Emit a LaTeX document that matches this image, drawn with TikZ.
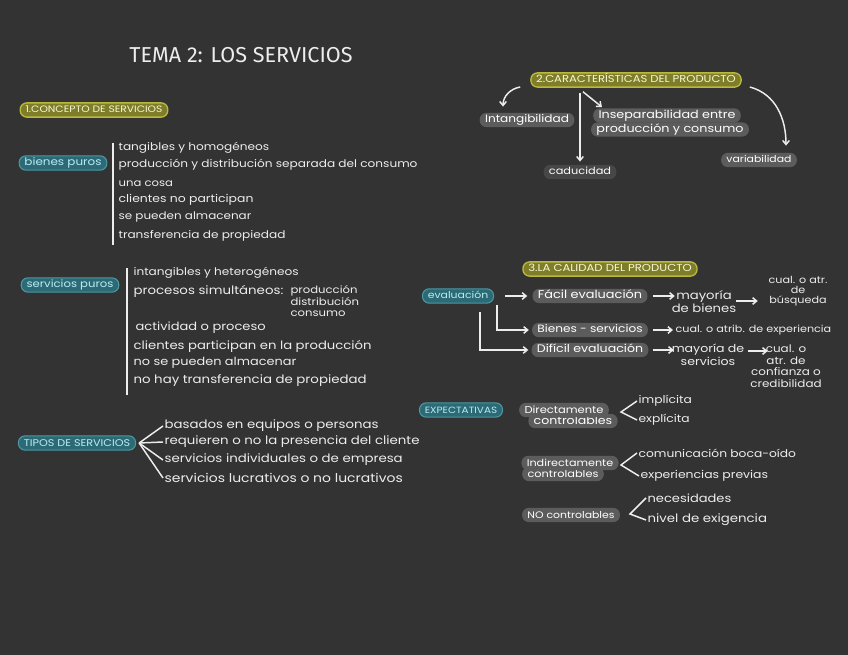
\documentclass[tikz,border=0pt]{standalone}
\usepackage{fontspec}
\setmainfont[FakeStretch=1.15]{Poppins}
\newfontfamily\ttlfont{Fira Sans}
\usetikzlibrary{arrows.meta,calc}
\definecolor{bg}{HTML}{333333}
\definecolor{txt}{HTML}{EDEDED}
\definecolor{yfill}{HTML}{7E7E2A}
\definecolor{yglow}{HTML}{B9B93E}
\definecolor{ytext}{HTML}{F6F6D2}
\definecolor{tfill}{HTML}{2C6A75}
\definecolor{tglow}{HTML}{4C98A4}
\definecolor{ttext}{HTML}{B8ECF4}
\definecolor{gfill}{HTML}{5C5C5C}
\definecolor{cfill}{HTML}{474747}
\begin{document}
\begin{tikzpicture}[x=0.75pt,y=-0.75pt,
  fs/.style={font=\fontsize{#1}{#1}\selectfont},
  hw/.style={fs=8.2, text=txt, inner sep=1pt},
  hwc/.style={hw, align=center},
  ttl/.style={font=\ttlfont\fontsize{16.2}{18}\selectfont, text=txt},
  line/.style={draw=txt, line width=1.1pt},
  arr/.style={line, -{Straight Barb[length=3pt,width=5pt]}},
  pill/.style={rounded corners=5pt, inner xsep=4pt, inner ysep=1.6pt, text height=6pt, text depth=1.5pt},
  ypill/.style={pill, fill=yfill, draw=yglow, line width=1pt, text=ytext, fs=7.5},
  tpill/.style={pill, fill=tfill, draw=tglow, line width=0.8pt, text=ttext, fs=7.5},
  gpill/.style={pill, fill=gfill, text=white, fs=7.8},
  cpill/.style={pill, fill=cfill, text=white, fs=7.4},
]
\fill[bg] (0,0) rectangle (848,655);
\useasboundingbox (0,0) rectangle (848,655);

% title
\node[ttl] (title) at (241,55) {TEMA 2: LOS SERVICIOS};

% ---------- section 1
\node[ypill, fs=7] (s1) at (94,110) {1.CONCEPTO DE SERVICIOS};

\node[tpill, fs=7.8] (bp) at (63,163) {bienes puros};
\draw[line] (113,143) -- (113,245);
\node[hw,anchor=west,fs=7.9] (bp1) at (117,148) {tangibles y homogéneos};
\node[hw,anchor=west,fs=7.9] (bp2) at (117,165) {producción y distribución separada del consumo};
\node[hw,anchor=west,fs=7.6] (bp3) at (117,184) {una cosa};
\node[hw,anchor=west,fs=8.1] (bp4) at (117,200) {clientes no participan};
\node[hw,anchor=west,fs=7.8] (bp5) at (117,217) {se pueden almacenar};
\node[hw,anchor=west,fs=7.9] (bp6) at (117,236) {transferencia de propiedad};

\node[tpill, fs=7.6] (sp) at (70,285) {servicios puros};
\draw[line] (127,268) -- (127,395);
\node[hw,anchor=west,fs=7.9] (sp1) at (132,273) {intangibles y heterogéneos};
\node[hw,anchor=west,fs=8.7] (sp2) at (132,291) {procesos simultáneos:};
\node[hw,anchor=north west,align=left,font=\fontsize{7.6}{7.9}\selectfont] (sp2b) at (289,284) {producción\\distribución\\consumo};
\node[hw,anchor=west,fs=8.5] (sp3) at (134,328) {actividad o proceso};
\node[hw,anchor=west,fs=8.6] (sp4) at (132,346) {clientes participan en la producción};
\node[hw,anchor=west,fs=8.4] (sp5) at (132,363) {no se pueden almacenar};
\node[hw,anchor=west,fs=8.7] (sp6) at (132,381) {no hay transferencia de propiedad};

\node[tpill, fs=7.3] (tip) at (77,443) {TIPOS DE SERVICIOS};
\node[hw,anchor=west,fs=8.7] (t1) at (163,426) {basados en equipos o personas};
\node[hw,anchor=west,fs=8.7] (t2) at (163,442) {requieren o no la presencia del cliente};
\node[hw,anchor=west,fs=8.7] (t3) at (163,460) {servicios individuales o de empresa};
\node[hw,anchor=west,fs=9.1] (t4) at (163,478) {servicios lucrativos o no lucrativos};
\coordinate (tf) at ($(tip.east)+(3,0)$);
\foreach \n in {t1,t2,t3,t4} \draw[line] (tf) -- (\n.west);

% ---------- section 2
\node[ypill, fs=7.55] (s2) at (636,80) {2.CARACTERÍSTICAS DEL PRODUCTO};
\node[gpill, fs=7.9] (c1) at (527,120) {Intangibilidad};
\node[gpill, fs=8.3] (c2b) at (670,129.5) {producción y consumo};
\node[gpill, fs=8.3] (c2a) at (667,115.5) {Inseparabilidad entre};
\node[cpill, fs=7.4] (c3) at (580,172) {caducidad};
\node[gpill, fs=7.1] (c4) at (759,160) {variabilidad};

\draw[arr] ($(s2.west)+(-10,7)$) to[out=190,in=90] ($(c1.north)+(-24,-6)$);
\draw[arr] ($(s2.south)+(-56,5)$) -- ($(c3.north)+(0,-3)$);
\draw[arr] ($(s2.south)+(-53,4)$) -- ($(c2a.north)+(-65,-1)$);
\draw[arr] ($(s2.east)+(8,7)$) to[out=-15,in=90] ($(c4.north)+(27,-7)$);

% ---------- section 3
\node[ypill, fs=7.6] (s3) at (610,269) {3.LA CALIDAD DEL PRODUCTO};
\node[tpill, fs=7.1] (ev) at (458,296) {evaluación};
\node[gpill, fs=8.4, minimum width=86pt] (fe) at (590,296) {Fácil evaluación};
\node[gpill, fs=7.9, minimum width=86pt] (bs) at (590,330) {Bienes - servicios};
\node[gpill, fs=8.2, minimum width=86pt] (de) at (590,350) {Difícil evaluación};
\node[hwc,font=\fontsize{8.6}{7.6}\selectfont] (mb) at (704,302) {mayoría\\de bienes};
\node[hwc,font=\fontsize{7.3}{7.5}\selectfont] (cb) at (798,291) {cual. o atr.\\de\\búsqueda};
\node[hw,anchor=west,fs=7.3] (ce) at (674,330) {cual. o atrib. de experiencia};
\node[hwc,font=\fontsize{8.2}{8.2}\selectfont] (ms) at (708,355) {mayoría de\\servicios};
\node[hwc,anchor=north,font=\fontsize{7.8}{8.8}\selectfont] (cc) at (786,343) {cual. o\\atr. de\\confianza o\\credibilidad};

\draw[arr] ($(ev.east)+(11,0)$) -- ($(fe.west)+(-5,0)$);
\draw[arr] ($(fe.east)+(5,0)$) -- ++(22,0);
\draw[arr] ($(fe.east)+(88,5)$) -- ++(22,0);
\draw[arr] ($(ev.south east)+(3,1)$) |- ($(bs.west)+(-3,0)$);
\draw[arr] ($(ev.south east)+(-14,8)$) |- ($(de.west)+(-3,0)$);
\draw[arr] ($(bs.east)+(5,0)$) -- ($(ce.west)+(-1,0)$);
\draw[arr] ($(de.east)+(4,0)$) -- ++(21,0);
\draw[arr] ($(de.east)+(99,1)$) -- ++(20,0);

% expectativas
\node[tpill, fs=6.8] (ex) at (461,410) {EXPECTATIVAS};
\node[gpill, fs=8.2] (dc2) at (573,421) {controlables};
\node[gpill, fs=7.5] (dc1) at (564,410) {Directamente};
\node[hw,anchor=west,fs=8] (im) at (637,401) {implícita};
\node[hw,anchor=west,fs=8] (exp) at (637,420) {explícita};
\coordinate (dct) at (621,412);
\draw[line] (im.west) -- (dct) -- (exp.west);

\node[gpill, fs=7.4] (ic2) at (563,474) {controlables};
\node[gpill, fs=7.3] (ic1) at (570,463) {Indirectamente};
\node[hw,anchor=west,fs=8] (co) at (637,453) {comunicación boca-oído};
\node[hw,anchor=west,fs=8.1] (epv) at (639,476) {experiencias previas};
\coordinate (ict) at (621,465);
\draw[line] (co.west) -- (ict) -- (epv.west);

\node[gpill, fs=7.1] (nc) at (571,515) {NO controlables};
\node[hw,anchor=west,fs=8.5] (ne) at (646,498) {necesidades};
\node[hw,anchor=west,fs=8.7] (ni) at (646,520) {nivel de exigencia};
\coordinate (nct) at (630,514);
\draw[line] (ne.west) -- (nct) -- (ni.west);
\end{tikzpicture}
\end{document}
